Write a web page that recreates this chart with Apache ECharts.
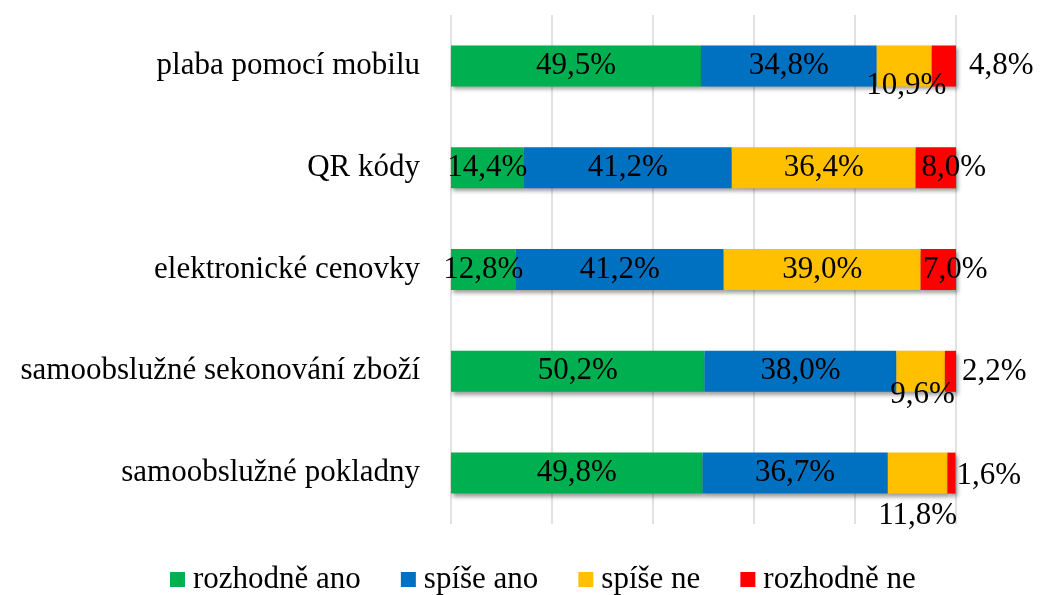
<!DOCTYPE html>
<html>
<head>
<meta charset="utf-8">
<script src="https://cdn.jsdelivr.net/npm/echarts@6/dist/echarts.min.js"></script>
<style>
html,body{margin:0;padding:0;background:#fff;}
#chart{width:1045px;height:595px;}
</style>
</head>
<body>
<div id="chart"></div>
<script>
const categories = ['plaba pomocí mobilu', 'QR kódy', 'elektronické cenovky', 'samoobslužné sekonování zboží', 'samoobslužné pokladny'];
const seriesNames = ['rozhodně ano', 'spíše ano', 'spíše ne', 'rozhodně ne'];
const rozhodneAno = [49.5, 14.4, 12.8, 50.2, 49.8];
const spiseAno = [34.8, 41.2, 41.2, 38.0, 36.7];
const spiseNe = [10.9, 36.4, 39.0, 9.6, 11.8];
const rozhodneNe = [4.8, 8.0, 7.0, 2.2, 1.6];

const colors = ['#00B050', '#0070C0', '#FFC000', '#FF0000'];
const FONT = "'Liberation Serif', 'Times New Roman', serif";

// label placement tweaks (series index -> category index)
const labelPos = {
  3: {
    0: { position: 'right', distance: 13 },
    3: { position: 'right', distance: 6 },
    4: { position: 'right', distance: 1 }
  }
};
const labelShift = {
  2: { 0: [2, 20], 3: [2, 24], 4: [0, 43] },
  3: { 1: [18, 0], 2: [17, 0], 3: [0, 1], 4: [0, 3] }
};

function fmt(v) { return v.toFixed(1).replace('.', ',') + '%'; }

const allValues = [rozhodneAno, spiseAno, spiseNe, rozhodneNe];

const series = allValues.map((vals, si) => ({
  name: seriesNames[si],
  type: 'bar',
  stack: 'total',
  barWidth: 41,
  itemStyle: {
    color: colors[si],
    shadowColor: 'rgba(0,0,0,0.38)',
    shadowBlur: 4,
    shadowOffsetX: 2,
    shadowOffsetY: 3
  },
  label: {
    show: true,
    position: 'inside',
    formatter: p => fmt(p.value),
    color: '#000',
    fontFamily: FONT,
    fontSize: 31
  },
  labelLayout: function (params) {
    const s = labelShift[si] && labelShift[si][params.dataIndex];
    return s ? { dx: s[0], dy: s[1], hideOverlap: false } : { hideOverlap: false };
  },
  data: vals.map((v, ci) => {
    const t = labelPos[si] && labelPos[si][ci];
    return t ? { value: v, label: Object.assign({}, t) } : { value: v };
  })
}));

const chart = echarts.init(document.getElementById('chart'), null, { renderer: 'canvas' });
chart.setOption({
  animation: false,
  backgroundColor: '#fff',
  grid: { left: 451, right: 89, top: 15, bottom: 71, containLabel: false },
  xAxis: {
    type: 'value',
    min: 0, max: 100, interval: 20,
    axisLabel: { show: false },
    axisLine: { show: false },
    axisTick: { show: false },
    splitLine: { show: true, lineStyle: { color: '#d9d9d9', width: 1.5 } }
  },
  yAxis: {
    type: 'category',
    inverse: true,
    data: categories,
    axisLine: { show: false },
    axisTick: { show: false },
    axisLabel: { color: '#000', fontFamily: FONT, fontSize: 31, margin: 31 }
  },
  legend: {
    data: seriesNames,
    left: 170,
    top: 564,
    icon: 'rect',
    itemWidth: 15,
    itemHeight: 15,
    itemGap: 40,
    padding: 0,
    textStyle: { color: '#000', fontFamily: FONT, fontSize: 31, lineHeight: 31, padding: [0, 0, 0, 3] }
  },
  series: series
});
</script>
</body>
</html>
